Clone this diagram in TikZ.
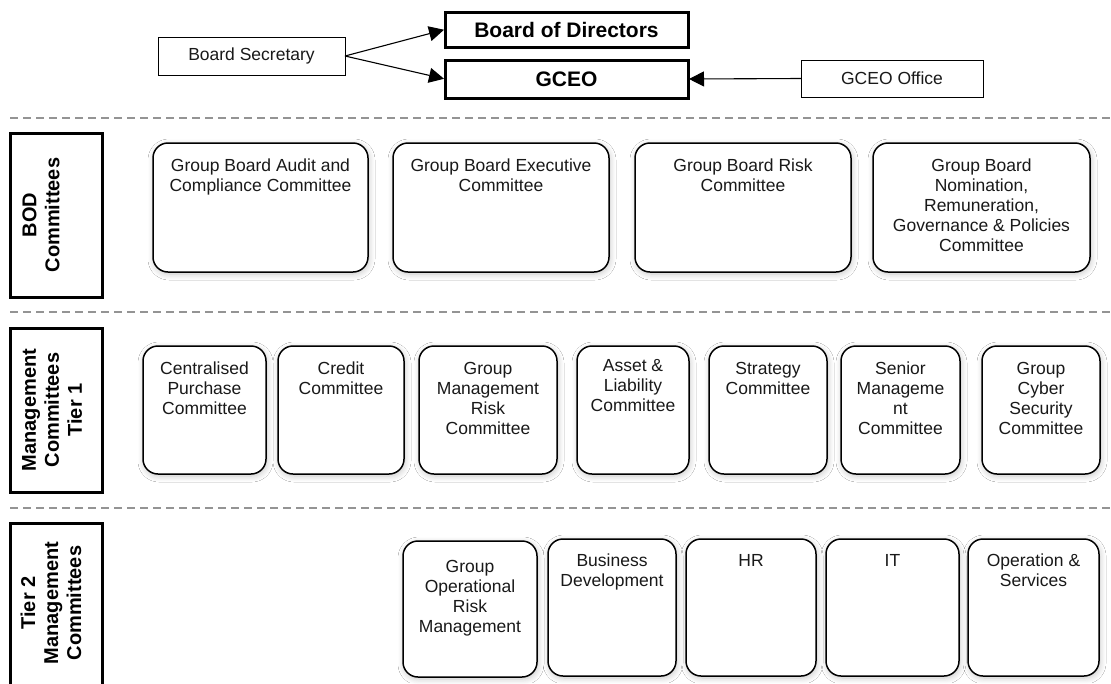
\documentclass[tikz,border=0pt]{standalone}
\usepackage{fontspec}
\setmainfont{Liberation Sans}
\usetikzlibrary{arrows.meta,shadows.blur,fit}
\newcommand\rbx[7]{%
  \node[rbox, fit={(#2,#3) (#4,#5)}] (#1) {};
  \node[txt, anchor=north] (#1t) at ([yshift=-#7pt]#1.north) {#6};}
\begin{document}
\begin{tikzpicture}[x=1pt,y=-1pt,
  every node/.style={inner sep=0pt, outer sep=0pt},
  txt/.style={align=center, font=\fontsize{17.5}{20}\selectfont, text=black!90},
  btxt/.style={align=center, font=\fontsize{21}{24}\selectfont\bfseries},
  lbltxt/.style={align=center, font=\fontsize{20}{23}\selectfont\bfseries},
  rbox/.style={draw, rounded corners=15pt, line width=1.5pt, fill=white,
    blur shadow={shadow xshift=1pt, shadow yshift=-2pt, shadow blur radius=6pt, shadow blur steps=8, shadow opacity=22}},
  thinbox/.style={draw, line width=0.9pt, fill=white},
  thickbox/.style={draw, line width=3pt, fill=white},
  sep/.style={draw=black!42, line width=1.8pt, dash pattern=on 8pt off 5pt},
  arr/.style={-{Triangle[length=15pt,width=15pt]}, line width=1.1pt, shorten >=1pt},
]
\useasboundingbox (0,0) rectangle (1111,683);
\clip (0,0) rectangle (1111,683);
\fill[white] (0,0) rectangle (1111,683);

% top
\node[thinbox, minimum width=187pt, minimum height=38pt, txt] (bsec) at (251.5,56) {Board Secretary};
\node[thickbox, minimum width=243pt, minimum height=35pt, btxt] (bod) at (566.5,29.5) {Board of Directors};
\node[thickbox, minimum width=243pt, minimum height=38pt, btxt] (gceo) at (566.5,79) {GCEO};
\node[thinbox, minimum width=182pt, minimum height=37pt, txt] (goff) at (892,78.5) {GCEO Office};
\draw[arr] (bsec.east) -- (bod.west);
\draw[arr] (bsec.east) -- (gceo.west);
\draw[arr] (goff.west) -- (gceo.east);

% separators
\draw[sep] (10,118) -- (1111,118);
\draw[sep] (10,312) -- (1111,312);
\draw[sep] (10,508) -- (1111,508);

% row labels
\node[thickbox, fit={(10,133) (102,297)}] (lb1) {};
\node[lbltxt, rotate=90] (lb1t) at (41,215) {BOD\\Committees};
\node[thickbox, fit={(10,328) (102,492)}] (lb2) {};
\node[lbltxt, rotate=90] (lb2t) at (52,410) {Management\\Committees\\Tier 1};
\node[thickbox, fit={(10,523) (102,690)}] (lb3) {};
\node[lbltxt, rotate=90] (lb3t) at (51,603) {Tier 2\\Management\\Committees};

% BOD committees
\rbx{b1}{153}{143}{368}{272}{Group Board Audit and\\Compliance Committee}{16}
\rbx{b2}{393}{143}{609}{272}{Group Board Executive\\Committee}{16}
\rbx{b3}{635}{143}{851}{272}{Group Board Risk\\Committee}{16}
\rbx{b4}{873}{143}{1090}{272}{Group Board\\Nomination,\\Remuneration,\\Governance \& Policies\\Committee}{16}

% Tier 1
\rbx{m1}{143}{346}{266}{474}{Centralised\\Purchase\\Committee}{16}
\rbx{m2}{278}{346}{404}{474}{Credit\\Committee}{16}
\rbx{m3}{419}{346}{557}{474}{Group\\Management\\Risk\\Committee}{16}
\rbx{m4}{577}{346}{689}{474}{Asset \&\\Liability\\Committee}{13}
\rbx{m5}{709}{346}{827}{474}{Strategy\\Committee}{16}
\rbx{m6}{841}{346}{960}{474}{Senior\\Manageme\\nt\\Committee}{16}
\rbx{m7}{982}{346}{1100}{474}{Group\\Cyber\\Security\\Committee}{16}

% Tier 2
\rbx{t1}{403}{541}{537}{677}{Group\\Operational\\Risk\\Management}{19}
\rbx{t2}{548}{539}{676}{676}{Business\\Development}{15}
\rbx{t3}{686}{539}{816}{676}{HR}{15}
\rbx{t4}{826}{539}{959}{676}{IT}{15}
\rbx{t5}{968}{539}{1099}{676}{Operation \&\\Services}{15}
\end{tikzpicture}
\end{document}
